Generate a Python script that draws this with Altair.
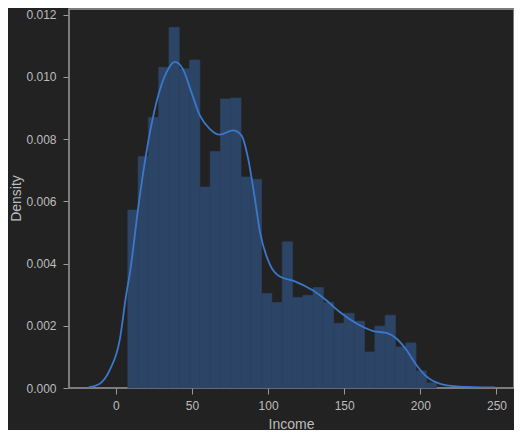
import altair as alt
import pandas as pd

# Histogram bin edges (Income) and density heights
bin_edges = [7.9, 14.66, 21.42, 28.18, 34.94, 41.7, 48.46, 55.22, 61.98, 68.74,
             75.5, 82.26, 89.02, 95.78, 102.54, 109.3, 116.06, 122.82, 129.58, 136.34,
             143.1, 149.86, 156.62, 163.38, 170.14, 176.9, 183.66, 190.42, 197.18, 203.94,
             210.7]
bin_density = [0.00572, 0.00744, 0.00870, 0.01031, 0.01159, 0.01026, 0.01054, 0.00646,
               0.00760, 0.00929, 0.00932, 0.00678, 0.00671, 0.00304, 0.00275, 0.00470,
               0.00291, 0.00298, 0.00323, 0.00275, 0.00208, 0.00240, 0.00215, 0.00116,
               0.00199, 0.00234, 0.00132, 0.00145, 0.00055, 0.00017]

# KDE curve
kde_x = [-17.7, -10.5, -3.9, 2.6, 7.0, 9.2, 15.3, 21.3, 26.7, 33.3, 38.8, 44.2, 49.7,
         55.2, 61.7, 68.3, 77.0, 82.5, 86.9, 91.3, 94.6, 101.1, 107.7, 116.4, 129.6,
         138.4, 147.1, 158.1, 169.0, 177.8, 184.3, 190.9, 197.4, 204.0, 212.7, 223.7,
         234.6, 248.9]
kde_y = [0.00003, 0.00014, 0.00058, 0.00154, 0.00304, 0.00367, 0.00600, 0.00791,
         0.00918, 0.01014, 0.01048, 0.01024, 0.00950, 0.00876, 0.00833, 0.00814,
         0.00828, 0.00812, 0.00738, 0.00610, 0.00504, 0.00398, 0.00358, 0.00345,
         0.00313, 0.00281, 0.00244, 0.00207, 0.00183, 0.00177, 0.00159, 0.00122,
         0.00074, 0.00037, 0.00014, 0.00005, 0.00003, 0.00002]

x_ticks = [0, 50, 100, 150, 200, 250]
y_ticks = [0.0, 0.002, 0.004, 0.006, 0.008, 0.010, 0.012]

hist_df = pd.DataFrame({
    "x0": bin_edges[:-1],
    "x1": bin_edges[1:],
    "d": bin_density,
})
kde_df = pd.DataFrame({"x": kde_x, "y": kde_y})

FONT = "Liberation Sans"
LABEL = "#bdbdbd"
GRID = "#9a9a9a"
BAR = "#2c4465"

xscale = alt.Scale(domain=[-30.7, 261.5], nice=False, zero=False)
yscale = alt.Scale(domain=[0, 0.01218], nice=False)

xaxis = alt.Axis(values=x_ticks, title="Income", grid=False, domain=False,
                 tickColor=GRID, tickSize=6, labelColor=LABEL, labelFontSize=12,
                 titleColor=LABEL, titleFontSize=14, titleFontWeight="normal",
                 labelPadding=6, labelFont=FONT, titleFont=FONT,
                 titleX=222, titleY=40, titleBaseline="alphabetic")
yaxis = alt.Axis(values=y_ticks, format=".3f", title="Density", grid=False, domain=False,
                 tickColor=GRID, tickSize=5, labelColor=LABEL, labelFontSize=12,
                 titleColor=LABEL, titleFontSize=14, titleFontWeight="normal",
                 labelPadding=7, labelFont=FONT, titleFont=FONT,
                 offset=1, titleX=-48, titleY=189, titleBaseline="alphabetic",
                 titleAngle=270)

bars = alt.Chart(hist_df).mark_rect(color=BAR, stroke=BAR, strokeWidth=0.6).encode(
    x=alt.X("x0:Q", scale=xscale, axis=xaxis),
    x2="x1:Q",
    y=alt.Y("d:Q", scale=yscale, axis=yaxis),
    y2=alt.datum(0),
)

line = alt.Chart(kde_df).mark_line(color="#3b78cc", strokeWidth=1.8,
                                   interpolate="monotone", clip=True).encode(
    x=alt.X("x:Q", scale=xscale),
    y=alt.Y("y:Q", scale=yscale),
)

chart = (bars + line).properties(
    width=445, height=379,
    background="#222222",
    autosize=alt.AutoSizeParams(type="none"),
    padding={"left": 61, "top": 1, "right": 0, "bottom": 42},
).configure_view(
    stroke=GRID, strokeWidth=1.5
)

chart.save("out.html", embed_options={"renderer": "svg", "actions": False})
